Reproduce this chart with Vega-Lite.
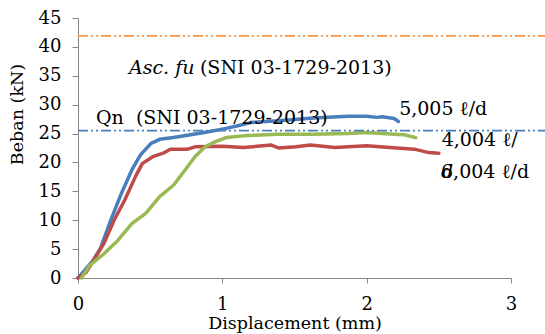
{
  "$schema": "https://vega.github.io/schema/vega-lite/v6.json",
  "width": 433,
  "height": 260,
  "autosize": {"type": "none"},
  "padding": {"left": 78, "top": 18, "right": 34, "bottom": 56},
  "background": "white",
  "config": {"view": {"stroke": null}, "font": "DejaVu Serif"},
  "datasets": {
    "curves": [
      {"s": "5,005", "x": 0, "y": 0}, {"s": "5,005", "x": 0.046, "y": 1.3}, {"s": "5,005", "x": 0.106, "y": 3.1}, {"s": "5,005", "x": 0.155, "y": 5.1}, {"s": "5,005", "x": 0.227, "y": 10}, {"s": "5,005", "x": 0.3, "y": 14.6}, {"s": "5,005", "x": 0.373, "y": 18.7}, {"s": "5,005", "x": 0.433, "y": 21.3}, {"s": "5,005", "x": 0.506, "y": 23.3}, {"s": "5,005", "x": 0.566, "y": 24.0}, {"s": "5,005", "x": 0.66, "y": 24.3}, {"s": "5,005", "x": 0.78, "y": 24.8}, {"s": "5,005", "x": 0.905, "y": 25.3}, {"s": "5,005", "x": 1.026, "y": 25.9}, {"s": "5,005", "x": 1.1, "y": 26.3}, {"s": "5,005", "x": 1.195, "y": 26.9}, {"s": "5,005", "x": 1.39, "y": 27.2}, {"s": "5,005", "x": 1.63, "y": 27.7}, {"s": "5,005", "x": 1.87, "y": 28.0}, {"s": "5,005", "x": 2.0, "y": 28.0}, {"s": "5,005", "x": 2.07, "y": 27.8}, {"s": "5,005", "x": 2.11, "y": 27.9}, {"s": "5,005", "x": 2.19, "y": 27.6}, {"s": "5,005", "x": 2.22, "y": 27.1},
      {"s": "6,004", "x": 0, "y": 0}, {"s": "6,004", "x": 0.058, "y": 1.0}, {"s": "6,004", "x": 0.094, "y": 2.5}, {"s": "6,004", "x": 0.18, "y": 6.0}, {"s": "6,004", "x": 0.25, "y": 10}, {"s": "6,004", "x": 0.324, "y": 13.5}, {"s": "6,004", "x": 0.397, "y": 17.5}, {"s": "6,004", "x": 0.445, "y": 19.8}, {"s": "6,004", "x": 0.518, "y": 21.0}, {"s": "6,004", "x": 0.59, "y": 21.6}, {"s": "6,004", "x": 0.64, "y": 22.3}, {"s": "6,004", "x": 0.76, "y": 22.3}, {"s": "6,004", "x": 0.81, "y": 22.7}, {"s": "6,004", "x": 1.0, "y": 22.8}, {"s": "6,004", "x": 1.147, "y": 22.6}, {"s": "6,004", "x": 1.34, "y": 23.0}, {"s": "6,004", "x": 1.39, "y": 22.5}, {"s": "6,004", "x": 1.51, "y": 22.7}, {"s": "6,004", "x": 1.61, "y": 23.0}, {"s": "6,004", "x": 1.78, "y": 22.6}, {"s": "6,004", "x": 2.0, "y": 22.9}, {"s": "6,004", "x": 2.16, "y": 22.6}, {"s": "6,004", "x": 2.33, "y": 22.3}, {"s": "6,004", "x": 2.43, "y": 21.7}, {"s": "6,004", "x": 2.5, "y": 21.6},
      {"s": "4,004", "x": 0.024, "y": 0}, {"s": "4,004", "x": 0.082, "y": 2.2}, {"s": "4,004", "x": 0.18, "y": 4.2}, {"s": "4,004", "x": 0.276, "y": 6.5}, {"s": "4,004", "x": 0.373, "y": 9.4}, {"s": "4,004", "x": 0.469, "y": 11.2}, {"s": "4,004", "x": 0.566, "y": 14.1}, {"s": "4,004", "x": 0.663, "y": 16.1}, {"s": "4,004", "x": 0.76, "y": 19.3}, {"s": "4,004", "x": 0.81, "y": 21.0}, {"s": "4,004", "x": 0.88, "y": 22.7}, {"s": "4,004", "x": 0.953, "y": 23.6}, {"s": "4,004", "x": 1.026, "y": 24.3}, {"s": "4,004", "x": 1.147, "y": 24.6}, {"s": "4,004", "x": 1.39, "y": 24.9}, {"s": "4,004", "x": 1.63, "y": 24.9}, {"s": "4,004", "x": 1.87, "y": 25.0}, {"s": "4,004", "x": 2.0, "y": 25.2}, {"s": "4,004", "x": 2.19, "y": 24.9}, {"s": "4,004", "x": 2.26, "y": 24.8}, {"s": "4,004", "x": 2.34, "y": 24.3}
    ],
    "limits": [
      {"name": "Asc.fu", "x": 0, "x2": 3.3, "y": 41.9},
      {"name": "Qn", "x": 0, "x2": 3.3, "y": 25.5}
    ],
    "notes": [
      {"t": "Qn\u00a0 (SNI 03-1729-2013)", "x": 0.125, "y": 27.65},
      {"t": "(SNI 03-1729-2013)", "x": 0.845, "y": 36.4},
      {"t": "5,005 ℓ/d", "x": 2.225, "y": 29.2},
      {"t": "4,004 ℓ/", "x": 2.52, "y": 23.9},
      {"t": "6,004 ℓ/d", "x": 2.515, "y": 18.4}
    ],
    "italic": [
      {"t": "Asc. fu", "x": 0.353, "y": 36.4},
      {"t": "d", "x": 2.515, "y": 18.4}
    ]
  },
  "encoding": {
    "x": {
      "field": "x", "type": "quantitative",
      "scale": {"domain": [0, 3], "nice": false},
      "axis": {
        "values": [0, 1, 2, 3], "format": "d", "grid": false,
        "labelFontSize": 18, "labelColor": "black", "labelFlush": false, "labelOverlap": false,
        "domainColor": "#868686", "tickColor": "#868686", "tickSize": 5, "labelPadding": 12,
        "title": "Displacement (mm)", "titleFontSize": 17.5, "titleFontWeight": "normal", "titleColor": "black",
        "titleY": 45, "titleBaseline": "middle"
      }
    },
    "y": {
      "field": "y", "type": "quantitative",
      "scale": {"domain": [0, 45], "nice": false},
      "axis": {
        "values": [0, 5, 10, 15, 20, 25, 30, 35, 40, 45], "grid": false,
        "labelFontSize": 18, "labelColor": "black", "labelFlush": false, "labelOverlap": false,
        "domainColor": "#868686", "tickColor": "#868686", "tickSize": 6, "labelPadding": 11,
        "title": "Beban (kN)", "titleFontSize": 17.5, "titleFontWeight": "normal", "titleColor": "black",
        "titleX": -61, "titleY": 96, "titleAngle": -90, "titleAlign": "center", "titleBaseline": "middle"
      }
    }
  },
  "layer": [
    {
      "data": {"name": "curves"},
      "mark": {"type": "line", "strokeWidth": 3.5, "strokeJoin": "round", "strokeCap": "round"},
      "encoding": {
        "color": {
          "field": "s", "type": "nominal", "legend": null,
          "scale": {"domain": ["5,005", "6,004", "4,004"], "range": ["#4A7EBB", "#BE4B48", "#98B954"]}
        }
      }
    },
    {
      "data": {"name": "limits"},
      "mark": {"type": "rule", "strokeWidth": 1.8, "strokeDash": [10, 3, 2, 3, 2, 3], "clip": false},
      "encoding": {
        "x2": {"field": "x2"},
        "stroke": {
          "field": "name", "type": "nominal", "legend": null,
          "scale": {"domain": ["Asc.fu", "Qn"], "range": ["#F79646", "#4A7EBB"]}
        }
      }
    },
    {
      "data": {"name": "notes"},
      "mark": {"type": "text", "align": "left", "baseline": "middle", "fontSize": 19, "color": "black"},
      "encoding": {
        "text": {"field": "t"}
      }
    },
    {
      "data": {"name": "italic"},
      "mark": {"type": "text", "align": "left", "baseline": "middle", "fontSize": 19, "fontStyle": "italic", "color": "black"},
      "encoding": {
        "text": {"field": "t"}
      }
    }
  ],
  "resolve": {"scale": {"color": "independent", "stroke": "independent"}}
}
